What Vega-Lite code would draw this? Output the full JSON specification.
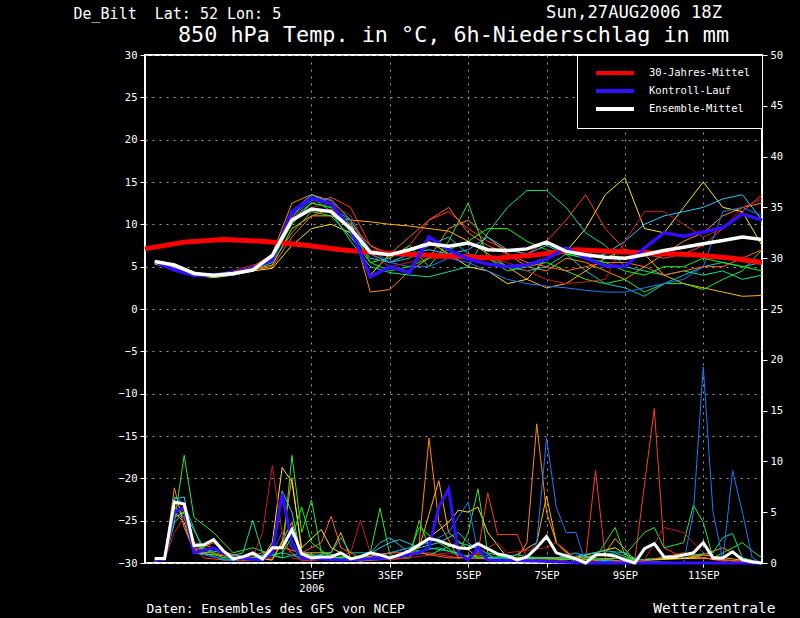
{
  "$schema": "https://vega.github.io/schema/vega-lite/v6.json",
  "width": 617,
  "height": 508,
  "autosize": {"type": "none"},
  "padding": {"left": 145, "top": 55, "right": 38, "bottom": 55},
  "background": "black",
  "config": {
    "view": {"stroke": "white", "strokeWidth": 2, "fill": "black"},
    "font": "DejaVu Sans Mono",
    "axis": {
      "labelColor": "white", "titleColor": "white", "tickColor": "white",
      "domain": false, "labelFont": "DejaVu Sans Mono", "titleFont": "DejaVu Sans Mono",
      "labelFontSize": 10.5, "titleFontWeight": "normal",
      "gridColor": "#a0a0a0", "gridDash": [2, 5], "gridWidth": 1, "tickSize": 5
    }
  },
  "title": {
    "text": "Sun,27AUG2006 18Z", "orient": "top", "anchor": "end", "frame": "group",
    "color": "white", "font": "DejaVu Sans Mono", "fontSize": 17.2, "fontWeight": "normal",
    "baseline": "alphabetic", "offset": 0, "dx": -40, "dy": 29
  },
  "datasets": {
    "temp": [
      {"s":"m1","h":6,"v":5.6},{"s":"m1","h":18,"v":5.1},{"s":"m1","h":30,"v":4.3},{"s":"m1","h":42,"v":3.9},{"s":"m1","h":54,"v":4.2},{"s":"m1","h":66,"v":4.8},{"s":"m1","h":78,"v":5.9},{"s":"m1","h":90,"v":10.8},{"s":"m1","h":102,"v":12.5},{"s":"m1","h":114,"v":13.2},{"s":"m1","h":126,"v":12.0},{"s":"m1","h":138,"v":7.5},{"s":"m1","h":150,"v":6.0},{"s":"m1","h":162,"v":7.5},{"s":"m1","h":174,"v":10.5},{"s":"m1","h":186,"v":11.5},{"s":"m1","h":198,"v":9.5},{"s":"m1","h":210,"v":8.0},{"s":"m1","h":222,"v":7.0},{"s":"m1","h":234,"v":6.5},{"s":"m1","h":246,"v":8.0},{"s":"m1","h":258,"v":10.5},{"s":"m1","h":270,"v":13.5},{"s":"m1","h":282,"v":9.5},{"s":"m1","h":294,"v":7.0},{"s":"m1","h":306,"v":6.5},{"s":"m1","h":318,"v":6.0},{"s":"m1","h":330,"v":6.5},{"s":"m1","h":342,"v":7.5},{"s":"m1","h":354,"v":9.5},{"s":"m1","h":366,"v":11.5},{"s":"m1","h":378,"v":13.5},
      {"s":"m2","h":6,"v":5.4},{"s":"m2","h":18,"v":5.0},{"s":"m2","h":30,"v":4.1},{"s":"m2","h":42,"v":3.8},{"s":"m2","h":54,"v":4.3},{"s":"m2","h":66,"v":5.0},{"s":"m2","h":78,"v":6.5},{"s":"m2","h":90,"v":12.5},{"s":"m2","h":102,"v":13.5},{"s":"m2","h":114,"v":12.8},{"s":"m2","h":126,"v":10.5},{"s":"m2","h":138,"v":2.0},{"s":"m2","h":150,"v":2.3},{"s":"m2","h":162,"v":4.5},{"s":"m2","h":174,"v":6.0},{"s":"m2","h":186,"v":9.5},{"s":"m2","h":198,"v":10.5},{"s":"m2","h":210,"v":8.5},{"s":"m2","h":222,"v":6.5},{"s":"m2","h":234,"v":5.0},{"s":"m2","h":246,"v":4.5},{"s":"m2","h":258,"v":6.0},{"s":"m2","h":270,"v":5.5},{"s":"m2","h":282,"v":4.5},{"s":"m2","h":294,"v":3.5},{"s":"m2","h":306,"v":5.0},{"s":"m2","h":318,"v":6.5},{"s":"m2","h":330,"v":8.0},{"s":"m2","h":342,"v":9.0},{"s":"m2","h":354,"v":11.0},{"s":"m2","h":366,"v":12.0},{"s":"m2","h":378,"v":12.5},
      {"s":"m3","h":6,"v":5.5},{"s":"m3","h":18,"v":4.9},{"s":"m3","h":30,"v":4.2},{"s":"m3","h":42,"v":4.0},{"s":"m3","h":54,"v":4.4},{"s":"m3","h":66,"v":4.7},{"s":"m3","h":78,"v":5.2},{"s":"m3","h":90,"v":9.5},{"s":"m3","h":102,"v":11.0},{"s":"m3","h":114,"v":11.0},{"s":"m3","h":126,"v":10.5},{"s":"m3","h":138,"v":10.3},{"s":"m3","h":150,"v":10.0},{"s":"m3","h":162,"v":9.8},{"s":"m3","h":174,"v":9.5},{"s":"m3","h":186,"v":9.2},{"s":"m3","h":198,"v":8.0},{"s":"m3","h":210,"v":6.5},{"s":"m3","h":222,"v":5.0},{"s":"m3","h":234,"v":3.5},{"s":"m3","h":246,"v":2.5},{"s":"m3","h":258,"v":3.0},{"s":"m3","h":270,"v":4.5},{"s":"m3","h":282,"v":6.0},{"s":"m3","h":294,"v":7.0},{"s":"m3","h":306,"v":6.5},{"s":"m3","h":318,"v":4.0},{"s":"m3","h":330,"v":3.0},{"s":"m3","h":342,"v":2.5},{"s":"m3","h":354,"v":2.0},{"s":"m3","h":366,"v":1.5},{"s":"m3","h":378,"v":1.6},
      {"s":"m4","h":6,"v":5.3},{"s":"m4","h":18,"v":4.8},{"s":"m4","h":30,"v":4.0},{"s":"m4","h":42,"v":3.7},{"s":"m4","h":54,"v":4.0},{"s":"m4","h":66,"v":4.5},{"s":"m4","h":78,"v":4.8},{"s":"m4","h":90,"v":7.5},{"s":"m4","h":102,"v":9.5},{"s":"m4","h":114,"v":10.0},{"s":"m4","h":126,"v":9.0},{"s":"m4","h":138,"v":4.0},{"s":"m4","h":150,"v":6.5},{"s":"m4","h":162,"v":7.0},{"s":"m4","h":174,"v":8.0},{"s":"m4","h":186,"v":6.5},{"s":"m4","h":198,"v":5.0},{"s":"m4","h":210,"v":4.5},{"s":"m4","h":222,"v":3.0},{"s":"m4","h":234,"v":3.5},{"s":"m4","h":246,"v":6.0},{"s":"m4","h":258,"v":6.8},{"s":"m4","h":270,"v":9.5},{"s":"m4","h":282,"v":13.5},{"s":"m4","h":294,"v":15.5},{"s":"m4","h":306,"v":9.5},{"s":"m4","h":318,"v":9.0},{"s":"m4","h":330,"v":12.0},{"s":"m4","h":342,"v":15.0},{"s":"m4","h":354,"v":12.0},{"s":"m4","h":366,"v":11.5},{"s":"m4","h":378,"v":7.5},
      {"s":"m5","h":6,"v":5.6},{"s":"m5","h":18,"v":5.2},{"s":"m5","h":30,"v":4.4},{"s":"m5","h":42,"v":3.9},{"s":"m5","h":54,"v":4.1},{"s":"m5","h":66,"v":4.6},{"s":"m5","h":78,"v":5.5},{"s":"m5","h":90,"v":9.0},{"s":"m5","h":102,"v":11.5},{"s":"m5","h":114,"v":11.0},{"s":"m5","h":126,"v":8.5},{"s":"m5","h":138,"v":5.5},{"s":"m5","h":150,"v":6.0},{"s":"m5","h":162,"v":7.5},{"s":"m5","h":174,"v":5.0},{"s":"m5","h":186,"v":8.0},{"s":"m5","h":198,"v":12.5},{"s":"m5","h":210,"v":6.0},{"s":"m5","h":222,"v":4.5},{"s":"m5","h":234,"v":5.0},{"s":"m5","h":246,"v":5.5},{"s":"m5","h":258,"v":4.5},{"s":"m5","h":270,"v":3.5},{"s":"m5","h":282,"v":3.0},{"s":"m5","h":294,"v":3.5},{"s":"m5","h":306,"v":2.0},{"s":"m5","h":318,"v":3.0},{"s":"m5","h":330,"v":3.0},{"s":"m5","h":342,"v":2.3},{"s":"m5","h":354,"v":3.5},{"s":"m5","h":366,"v":4.5},{"s":"m5","h":378,"v":7.0},
      {"s":"m6","h":6,"v":5.7},{"s":"m6","h":18,"v":5.3},{"s":"m6","h":30,"v":4.3},{"s":"m6","h":42,"v":4.0},{"s":"m6","h":54,"v":4.2},{"s":"m6","h":66,"v":4.6},{"s":"m6","h":78,"v":6.5},{"s":"m6","h":90,"v":11.0},{"s":"m6","h":102,"v":13.2},{"s":"m6","h":114,"v":11.5},{"s":"m6","h":126,"v":8.0},{"s":"m6","h":138,"v":5.0},{"s":"m6","h":150,"v":4.3},{"s":"m6","h":162,"v":4.0},{"s":"m6","h":174,"v":3.8},{"s":"m6","h":186,"v":4.4},{"s":"m6","h":198,"v":5.0},{"s":"m6","h":210,"v":9.0},{"s":"m6","h":222,"v":12.0},{"s":"m6","h":234,"v":14.0},{"s":"m6","h":246,"v":14.0},{"s":"m6","h":258,"v":12.0},{"s":"m6","h":270,"v":9.0},{"s":"m6","h":282,"v":7.5},{"s":"m6","h":294,"v":5.0},{"s":"m6","h":306,"v":4.5},{"s":"m6","h":318,"v":4.0},{"s":"m6","h":330,"v":4.5},{"s":"m6","h":342,"v":4.0},{"s":"m6","h":354,"v":4.5},{"s":"m6","h":366,"v":3.5},{"s":"m6","h":378,"v":4.0},
      {"s":"m7","h":6,"v":5.5},{"s":"m7","h":18,"v":5.0},{"s":"m7","h":30,"v":4.2},{"s":"m7","h":42,"v":3.9},{"s":"m7","h":54,"v":4.3},{"s":"m7","h":66,"v":4.8},{"s":"m7","h":78,"v":5.5},{"s":"m7","h":90,"v":10.5},{"s":"m7","h":102,"v":12.5},{"s":"m7","h":114,"v":12.0},{"s":"m7","h":126,"v":10.5},{"s":"m7","h":138,"v":6.5},{"s":"m7","h":150,"v":5.5},{"s":"m7","h":162,"v":6.0},{"s":"m7","h":174,"v":7.5},{"s":"m7","h":186,"v":8.5},{"s":"m7","h":198,"v":6.5},{"s":"m7","h":210,"v":6.0},{"s":"m7","h":222,"v":5.0},{"s":"m7","h":234,"v":4.5},{"s":"m7","h":246,"v":5.0},{"s":"m7","h":258,"v":6.5},{"s":"m7","h":270,"v":4.5},{"s":"m7","h":282,"v":3.0},{"s":"m7","h":294,"v":2.5},{"s":"m7","h":306,"v":1.5},{"s":"m7","h":318,"v":3.0},{"s":"m7","h":330,"v":4.0},{"s":"m7","h":342,"v":5.0},{"s":"m7","h":354,"v":5.5},{"s":"m7","h":366,"v":5.0},{"s":"m7","h":378,"v":5.5},
      {"s":"m8","h":6,"v":5.4},{"s":"m8","h":18,"v":4.8},{"s":"m8","h":30,"v":4.1},{"s":"m8","h":42,"v":3.8},{"s":"m8","h":54,"v":4.0},{"s":"m8","h":66,"v":4.5},{"s":"m8","h":78,"v":6.0},{"s":"m8","h":90,"v":11.5},{"s":"m8","h":102,"v":13.5},{"s":"m8","h":114,"v":12.5},{"s":"m8","h":126,"v":9.0},{"s":"m8","h":138,"v":6.0},{"s":"m8","h":150,"v":5.5},{"s":"m8","h":162,"v":6.5},{"s":"m8","h":174,"v":7.0},{"s":"m8","h":186,"v":6.5},{"s":"m8","h":198,"v":7.0},{"s":"m8","h":210,"v":8.5},{"s":"m8","h":222,"v":7.0},{"s":"m8","h":234,"v":6.5},{"s":"m8","h":246,"v":7.5},{"s":"m8","h":258,"v":6.5},{"s":"m8","h":270,"v":6.0},{"s":"m8","h":282,"v":6.5},{"s":"m8","h":294,"v":8.0},{"s":"m8","h":306,"v":10.0},{"s":"m8","h":318,"v":11.0},{"s":"m8","h":330,"v":11.5},{"s":"m8","h":342,"v":12.0},{"s":"m8","h":354,"v":13.0},{"s":"m8","h":366,"v":13.5},{"s":"m8","h":378,"v":10.5},
      {"s":"m9","h":6,"v":5.6},{"s":"m9","h":18,"v":5.1},{"s":"m9","h":30,"v":4.0},{"s":"m9","h":42,"v":3.8},{"s":"m9","h":54,"v":4.2},{"s":"m9","h":66,"v":4.9},{"s":"m9","h":78,"v":6.3},{"s":"m9","h":90,"v":11.0},{"s":"m9","h":102,"v":12.8},{"s":"m9","h":114,"v":13.0},{"s":"m9","h":126,"v":10.5},{"s":"m9","h":138,"v":7.0},{"s":"m9","h":150,"v":5.5},{"s":"m9","h":162,"v":5.0},{"s":"m9","h":174,"v":5.0},{"s":"m9","h":186,"v":6.0},{"s":"m9","h":198,"v":5.5},{"s":"m9","h":210,"v":4.5},{"s":"m9","h":222,"v":3.5},{"s":"m9","h":234,"v":3.0},{"s":"m9","h":246,"v":2.7},{"s":"m9","h":258,"v":2.5},{"s":"m9","h":270,"v":2.2},{"s":"m9","h":282,"v":2.0},{"s":"m9","h":294,"v":2.0},{"s":"m9","h":306,"v":2.5},{"s":"m9","h":318,"v":3.0},{"s":"m9","h":330,"v":3.5},{"s":"m9","h":342,"v":5.0},{"s":"m9","h":354,"v":11.5},{"s":"m9","h":366,"v":12.0},{"s":"m9","h":378,"v":11.0},
      {"s":"m10","h":6,"v":5.5},{"s":"m10","h":18,"v":5.0},{"s":"m10","h":30,"v":4.3},{"s":"m10","h":42,"v":4.0},{"s":"m10","h":54,"v":4.5},{"s":"m10","h":66,"v":5.2},{"s":"m10","h":78,"v":5.7},{"s":"m10","h":90,"v":10.5},{"s":"m10","h":102,"v":12.0},{"s":"m10","h":114,"v":12.5},{"s":"m10","h":126,"v":11.0},{"s":"m10","h":138,"v":6.5},{"s":"m10","h":150,"v":5.0},{"s":"m10","h":162,"v":5.5},{"s":"m10","h":174,"v":6.0},{"s":"m10","h":186,"v":6.0},{"s":"m10","h":198,"v":6.5},{"s":"m10","h":210,"v":6.0},{"s":"m10","h":222,"v":5.5},{"s":"m10","h":234,"v":4.5},{"s":"m10","h":246,"v":3.5},{"s":"m10","h":258,"v":3.0},{"s":"m10","h":270,"v":3.2},{"s":"m10","h":282,"v":3.5},{"s":"m10","h":294,"v":8.0},{"s":"m10","h":306,"v":11.5},{"s":"m10","h":318,"v":11.5},{"s":"m10","h":330,"v":10.0},{"s":"m10","h":342,"v":8.5},{"s":"m10","h":354,"v":9.5},{"s":"m10","h":366,"v":12.0},{"s":"m10","h":378,"v":13.0},
      {"s":"m11","h":6,"v":5.5},{"s":"m11","h":18,"v":5.0},{"s":"m11","h":30,"v":4.2},{"s":"m11","h":42,"v":3.9},{"s":"m11","h":54,"v":4.2},{"s":"m11","h":66,"v":4.6},{"s":"m11","h":78,"v":5.0},{"s":"m11","h":90,"v":8.5},{"s":"m11","h":102,"v":11.0},{"s":"m11","h":114,"v":11.8},{"s":"m11","h":126,"v":10.0},{"s":"m11","h":138,"v":7.5},{"s":"m11","h":150,"v":6.5},{"s":"m11","h":162,"v":8.5},{"s":"m11","h":174,"v":10.5},{"s":"m11","h":186,"v":12.0},{"s":"m11","h":198,"v":9.0},{"s":"m11","h":210,"v":7.5},{"s":"m11","h":222,"v":6.5},{"s":"m11","h":234,"v":5.5},{"s":"m11","h":246,"v":5.0},{"s":"m11","h":258,"v":4.5},{"s":"m11","h":270,"v":5.0},{"s":"m11","h":282,"v":5.5},{"s":"m11","h":294,"v":5.5},{"s":"m11","h":306,"v":5.0},{"s":"m11","h":318,"v":4.0},{"s":"m11","h":330,"v":4.5},{"s":"m11","h":342,"v":5.0},{"s":"m11","h":354,"v":5.0},{"s":"m11","h":366,"v":6.0},{"s":"m11","h":378,"v":7.0},
      {"s":"m12","h":6,"v":5.6},{"s":"m12","h":18,"v":5.1},{"s":"m12","h":30,"v":4.1},{"s":"m12","h":42,"v":3.8},{"s":"m12","h":54,"v":4.1},{"s":"m12","h":66,"v":4.7},{"s":"m12","h":78,"v":6.0},{"s":"m12","h":90,"v":10.0},{"s":"m12","h":102,"v":12.5},{"s":"m12","h":114,"v":12.0},{"s":"m12","h":126,"v":10.0},{"s":"m12","h":138,"v":5.5},{"s":"m12","h":150,"v":4.5},{"s":"m12","h":162,"v":5.0},{"s":"m12","h":174,"v":6.0},{"s":"m12","h":186,"v":7.0},{"s":"m12","h":198,"v":8.0},{"s":"m12","h":210,"v":9.5},{"s":"m12","h":222,"v":9.5},{"s":"m12","h":234,"v":8.0},{"s":"m12","h":246,"v":7.0},{"s":"m12","h":258,"v":6.5},{"s":"m12","h":270,"v":6.0},{"s":"m12","h":282,"v":5.5},{"s":"m12","h":294,"v":4.5},{"s":"m12","h":306,"v":4.0},{"s":"m12","h":318,"v":5.0},{"s":"m12","h":330,"v":5.0},{"s":"m12","h":342,"v":6.0},{"s":"m12","h":354,"v":5.5},{"s":"m12","h":366,"v":5.0},{"s":"m12","h":378,"v":4.5},
      {"s":"30-Jahres-Mittel","h":0,"v":7.1},{"s":"30-Jahres-Mittel","h":24,"v":7.9},{"s":"30-Jahres-Mittel","h":48,"v":8.2},{"s":"30-Jahres-Mittel","h":72,"v":8.0},{"s":"30-Jahres-Mittel","h":96,"v":7.6},{"s":"30-Jahres-Mittel","h":120,"v":7.0},{"s":"30-Jahres-Mittel","h":144,"v":6.6},{"s":"30-Jahres-Mittel","h":168,"v":6.4},{"s":"30-Jahres-Mittel","h":192,"v":6.2},{"s":"30-Jahres-Mittel","h":216,"v":6.0},{"s":"30-Jahres-Mittel","h":240,"v":6.4},{"s":"30-Jahres-Mittel","h":264,"v":7.0},{"s":"30-Jahres-Mittel","h":288,"v":6.8},{"s":"30-Jahres-Mittel","h":312,"v":6.6},{"s":"30-Jahres-Mittel","h":336,"v":6.4},{"s":"30-Jahres-Mittel","h":360,"v":6.0},{"s":"30-Jahres-Mittel","h":378,"v":5.5},
      {"s":"Kontroll-Lauf","h":6,"v":5.6},{"s":"Kontroll-Lauf","h":18,"v":4.6},{"s":"Kontroll-Lauf","h":30,"v":4.0},{"s":"Kontroll-Lauf","h":42,"v":4.0},{"s":"Kontroll-Lauf","h":54,"v":4.3},{"s":"Kontroll-Lauf","h":66,"v":4.8},{"s":"Kontroll-Lauf","h":78,"v":5.8},{"s":"Kontroll-Lauf","h":90,"v":11.5},{"s":"Kontroll-Lauf","h":102,"v":13.1},{"s":"Kontroll-Lauf","h":114,"v":12.4},{"s":"Kontroll-Lauf","h":126,"v":9.5},{"s":"Kontroll-Lauf","h":138,"v":3.8},{"s":"Kontroll-Lauf","h":150,"v":5.0},{"s":"Kontroll-Lauf","h":162,"v":4.3},{"s":"Kontroll-Lauf","h":174,"v":8.5},{"s":"Kontroll-Lauf","h":186,"v":7.0},{"s":"Kontroll-Lauf","h":198,"v":5.9},{"s":"Kontroll-Lauf","h":210,"v":5.3},{"s":"Kontroll-Lauf","h":222,"v":5.0},{"s":"Kontroll-Lauf","h":234,"v":5.2},{"s":"Kontroll-Lauf","h":246,"v":5.9},{"s":"Kontroll-Lauf","h":258,"v":7.2},{"s":"Kontroll-Lauf","h":270,"v":6.0},{"s":"Kontroll-Lauf","h":282,"v":5.1},{"s":"Kontroll-Lauf","h":294,"v":5.0},{"s":"Kontroll-Lauf","h":306,"v":7.2},{"s":"Kontroll-Lauf","h":318,"v":9.0},{"s":"Kontroll-Lauf","h":330,"v":8.6},{"s":"Kontroll-Lauf","h":342,"v":9.1},{"s":"Kontroll-Lauf","h":354,"v":9.6},{"s":"Kontroll-Lauf","h":366,"v":11.2},{"s":"Kontroll-Lauf","h":378,"v":10.5},
      {"s":"Ensemble-Mittel","h":6,"v":5.6},{"s":"Ensemble-Mittel","h":18,"v":5.2},{"s":"Ensemble-Mittel","h":30,"v":4.2},{"s":"Ensemble-Mittel","h":42,"v":4.0},{"s":"Ensemble-Mittel","h":54,"v":4.2},{"s":"Ensemble-Mittel","h":66,"v":4.6},{"s":"Ensemble-Mittel","h":78,"v":6.3},{"s":"Ensemble-Mittel","h":90,"v":10.5},{"s":"Ensemble-Mittel","h":102,"v":11.8},{"s":"Ensemble-Mittel","h":114,"v":11.5},{"s":"Ensemble-Mittel","h":126,"v":9.5},{"s":"Ensemble-Mittel","h":138,"v":6.7},{"s":"Ensemble-Mittel","h":150,"v":6.4},{"s":"Ensemble-Mittel","h":162,"v":7.0},{"s":"Ensemble-Mittel","h":174,"v":7.7},{"s":"Ensemble-Mittel","h":186,"v":7.4},{"s":"Ensemble-Mittel","h":198,"v":7.8},{"s":"Ensemble-Mittel","h":210,"v":7.0},{"s":"Ensemble-Mittel","h":222,"v":6.9},{"s":"Ensemble-Mittel","h":234,"v":7.1},{"s":"Ensemble-Mittel","h":246,"v":7.9},{"s":"Ensemble-Mittel","h":258,"v":6.8},{"s":"Ensemble-Mittel","h":270,"v":6.4},{"s":"Ensemble-Mittel","h":282,"v":6.1},{"s":"Ensemble-Mittel","h":294,"v":6.0},{"s":"Ensemble-Mittel","h":306,"v":6.4},{"s":"Ensemble-Mittel","h":318,"v":6.9},{"s":"Ensemble-Mittel","h":330,"v":7.3},{"s":"Ensemble-Mittel","h":342,"v":7.7},{"s":"Ensemble-Mittel","h":354,"v":8.1},{"s":"Ensemble-Mittel","h":366,"v":8.5},{"s":"Ensemble-Mittel","h":378,"v":8.2}
    ],
    "precip": [
      {"s":"m1","h":6,"v":0.2},{"s":"m1","h":12,"v":0.3},{"s":"m1","h":18,"v":5.5},{"s":"m1","h":24,"v":4.5},{"s":"m1","h":30,"v":1.5},{"s":"m1","h":36,"v":0.5},{"s":"m1","h":48,"v":0.3},{"s":"m1","h":60,"v":0.2},{"s":"m1","h":78,"v":0.5},{"s":"m1","h":84,"v":2.0},{"s":"m1","h":90,"v":1.0},{"s":"m1","h":96,"v":0.2},{"s":"m1","h":120,"v":0.5},{"s":"m1","h":132,"v":0.2},{"s":"m1","h":174,"v":1.0},{"s":"m1","h":192,"v":0.5},{"s":"m1","h":204,"v":1.0},{"s":"m1","h":210,"v":6.9},{"s":"m1","h":216,"v":2.8},{"s":"m1","h":228,"v":2.8},{"s":"m1","h":234,"v":0.5},{"s":"m1","h":252,"v":0.3},{"s":"m1","h":264,"v":0.0},{"s":"m1","h":270,"v":0.5},{"s":"m1","h":276,"v":9.1},{"s":"m1","h":282,"v":0.5},{"s":"m1","h":294,"v":0.0},{"s":"m1","h":300,"v":0.2},{"s":"m1","h":312,"v":15.2},{"s":"m1","h":318,"v":1.5},{"s":"m1","h":330,"v":0.5},{"s":"m1","h":342,"v":0.5},{"s":"m1","h":360,"v":0.0},{"s":"m1","h":378,"v":0.0},
      {"s":"m2","h":6,"v":0.3},{"s":"m2","h":12,"v":0.5},{"s":"m2","h":18,"v":7.4},{"s":"m2","h":24,"v":3.5},{"s":"m2","h":30,"v":1.2},{"s":"m2","h":42,"v":2.0},{"s":"m2","h":54,"v":0.3},{"s":"m2","h":66,"v":0.5},{"s":"m2","h":78,"v":0.3},{"s":"m2","h":84,"v":2.0},{"s":"m2","h":90,"v":8.4},{"s":"m2","h":96,"v":1.0},{"s":"m2","h":108,"v":0.5},{"s":"m2","h":120,"v":0.5},{"s":"m2","h":132,"v":0.2},{"s":"m2","h":162,"v":0.5},{"s":"m2","h":168,"v":2.0},{"s":"m2","h":174,"v":12.3},{"s":"m2","h":180,"v":4.0},{"s":"m2","h":192,"v":0.5},{"s":"m2","h":204,"v":0.8},{"s":"m2","h":216,"v":0.3},{"s":"m2","h":228,"v":0.5},{"s":"m2","h":234,"v":2.0},{"s":"m2","h":240,"v":13.7},{"s":"m2","h":246,"v":5.0},{"s":"m2","h":252,"v":2.0},{"s":"m2","h":264,"v":0.0},{"s":"m2","h":288,"v":0.5},{"s":"m2","h":300,"v":0.2},{"s":"m2","h":336,"v":0.5},{"s":"m2","h":354,"v":1.5},{"s":"m2","h":366,"v":0.5},{"s":"m2","h":378,"v":0.0},
      {"s":"m3","h":6,"v":0.3},{"s":"m3","h":12,"v":0.4},{"s":"m3","h":18,"v":5.0},{"s":"m3","h":24,"v":4.0},{"s":"m3","h":30,"v":1.0},{"s":"m3","h":60,"v":0.5},{"s":"m3","h":78,"v":0.3},{"s":"m3","h":90,"v":4.0},{"s":"m3","h":96,"v":1.0},{"s":"m3","h":114,"v":1.0},{"s":"m3","h":120,"v":3.0},{"s":"m3","h":126,"v":0.5},{"s":"m3","h":150,"v":0.5},{"s":"m3","h":168,"v":1.5},{"s":"m3","h":180,"v":8.1},{"s":"m3","h":186,"v":3.0},{"s":"m3","h":204,"v":0.5},{"s":"m3","h":222,"v":0.3},{"s":"m3","h":240,"v":2.0},{"s":"m3","h":246,"v":6.6},{"s":"m3","h":252,"v":2.0},{"s":"m3","h":264,"v":0.3},{"s":"m3","h":282,"v":1.0},{"s":"m3","h":288,"v":2.4},{"s":"m3","h":300,"v":0.3},{"s":"m3","h":330,"v":0.5},{"s":"m3","h":342,"v":0.8},{"s":"m3","h":378,"v":0.0},
      {"s":"m4","h":6,"v":0.2},{"s":"m4","h":12,"v":0.3},{"s":"m4","h":18,"v":4.5},{"s":"m4","h":24,"v":5.0},{"s":"m4","h":30,"v":1.0},{"s":"m4","h":42,"v":1.0},{"s":"m4","h":60,"v":0.3},{"s":"m4","h":72,"v":0.5},{"s":"m4","h":78,"v":2.0},{"s":"m4","h":84,"v":9.4},{"s":"m4","h":90,"v":8.0},{"s":"m4","h":96,"v":1.5},{"s":"m4","h":108,"v":3.3},{"s":"m4","h":114,"v":1.5},{"s":"m4","h":126,"v":0.5},{"s":"m4","h":138,"v":0.5},{"s":"m4","h":150,"v":0.5},{"s":"m4","h":162,"v":1.0},{"s":"m4","h":174,"v":2.5},{"s":"m4","h":186,"v":4.0},{"s":"m4","h":192,"v":5.2},{"s":"m4","h":198,"v":5.0},{"s":"m4","h":204,"v":5.5},{"s":"m4","h":210,"v":3.0},{"s":"m4","h":222,"v":0.5},{"s":"m4","h":246,"v":0.5},{"s":"m4","h":258,"v":0.3},{"s":"m4","h":288,"v":1.5},{"s":"m4","h":300,"v":0.3},{"s":"m4","h":342,"v":0.5},{"s":"m4","h":360,"v":0.2},{"s":"m4","h":378,"v":0.0},
      {"s":"m5","h":6,"v":0.3},{"s":"m5","h":12,"v":0.3},{"s":"m5","h":18,"v":4.0},{"s":"m5","h":24,"v":10.6},{"s":"m5","h":30,"v":4.5},{"s":"m5","h":42,"v":3.0},{"s":"m5","h":54,"v":1.0},{"s":"m5","h":66,"v":1.5},{"s":"m5","h":84,"v":0.5},{"s":"m5","h":90,"v":10.6},{"s":"m5","h":96,"v":3.0},{"s":"m5","h":102,"v":6.2},{"s":"m5","h":108,"v":1.0},{"s":"m5","h":126,"v":0.5},{"s":"m5","h":138,"v":1.0},{"s":"m5","h":144,"v":5.4},{"s":"m5","h":150,"v":0.8},{"s":"m5","h":162,"v":0.5},{"s":"m5","h":168,"v":4.2},{"s":"m5","h":174,"v":1.5},{"s":"m5","h":192,"v":1.0},{"s":"m5","h":198,"v":3.0},{"s":"m5","h":204,"v":7.3},{"s":"m5","h":210,"v":1.0},{"s":"m5","h":228,"v":0.3},{"s":"m5","h":246,"v":0.5},{"s":"m5","h":276,"v":0.5},{"s":"m5","h":288,"v":3.5},{"s":"m5","h":294,"v":0.8},{"s":"m5","h":306,"v":3.0},{"s":"m5","h":312,"v":3.5},{"s":"m5","h":318,"v":1.5},{"s":"m5","h":330,"v":2.0},{"s":"m5","h":336,"v":5.7},{"s":"m5","h":342,"v":4.0},{"s":"m5","h":348,"v":0.5},{"s":"m5","h":360,"v":1.5},{"s":"m5","h":366,"v":2.0},{"s":"m5","h":372,"v":1.2},{"s":"m5","h":378,"v":0.5},
      {"s":"m6","h":6,"v":0.2},{"s":"m6","h":12,"v":0.3},{"s":"m6","h":18,"v":4.0},{"s":"m6","h":24,"v":5.0},{"s":"m6","h":36,"v":1.5},{"s":"m6","h":48,"v":0.5},{"s":"m6","h":60,"v":1.0},{"s":"m6","h":66,"v":4.2},{"s":"m6","h":72,"v":1.0},{"s":"m6","h":84,"v":0.5},{"s":"m6","h":96,"v":1.0},{"s":"m6","h":114,"v":0.5},{"s":"m6","h":132,"v":0.5},{"s":"m6","h":150,"v":1.0},{"s":"m6","h":162,"v":1.5},{"s":"m6","h":174,"v":0.8},{"s":"m6","h":192,"v":2.0},{"s":"m6","h":204,"v":1.5},{"s":"m6","h":216,"v":0.3},{"s":"m6","h":240,"v":0.5},{"s":"m6","h":264,"v":0.5},{"s":"m6","h":288,"v":1.0},{"s":"m6","h":300,"v":0.3},{"s":"m6","h":318,"v":0.5},{"s":"m6","h":348,"v":1.0},{"s":"m6","h":354,"v":2.5},{"s":"m6","h":360,"v":2.9},{"s":"m6","h":366,"v":0.5},{"s":"m6","h":378,"v":0.0},
      {"s":"m7","h":6,"v":0.4},{"s":"m7","h":12,"v":0.5},{"s":"m7","h":18,"v":6.5},{"s":"m7","h":24,"v":5.8},{"s":"m7","h":36,"v":1.0},{"s":"m7","h":48,"v":0.3},{"s":"m7","h":72,"v":0.5},{"s":"m7","h":84,"v":1.0},{"s":"m7","h":96,"v":0.5},{"s":"m7","h":114,"v":1.0},{"s":"m7","h":120,"v":2.5},{"s":"m7","h":126,"v":1.0},{"s":"m7","h":138,"v":1.0},{"s":"m7","h":144,"v":2.0},{"s":"m7","h":150,"v":2.5},{"s":"m7","h":162,"v":1.0},{"s":"m7","h":180,"v":1.5},{"s":"m7","h":198,"v":0.5},{"s":"m7","h":210,"v":0.5},{"s":"m7","h":228,"v":0.8},{"s":"m7","h":240,"v":0.5},{"s":"m7","h":258,"v":0.5},{"s":"m7","h":282,"v":1.2},{"s":"m7","h":294,"v":1.0},{"s":"m7","h":306,"v":0.0},{"s":"m7","h":378,"v":0.0},
      {"s":"m8","h":6,"v":0.3},{"s":"m8","h":12,"v":0.4},{"s":"m8","h":18,"v":6.3},{"s":"m8","h":24,"v":6.5},{"s":"m8","h":30,"v":1.5},{"s":"m8","h":48,"v":1.0},{"s":"m8","h":66,"v":0.5},{"s":"m8","h":78,"v":1.0},{"s":"m8","h":84,"v":7.1},{"s":"m8","h":90,"v":5.0},{"s":"m8","h":96,"v":0.5},{"s":"m8","h":114,"v":0.5},{"s":"m8","h":132,"v":0.3},{"s":"m8","h":144,"v":1.5},{"s":"m8","h":150,"v":2.0},{"s":"m8","h":156,"v":2.3},{"s":"m8","h":168,"v":1.5},{"s":"m8","h":180,"v":2.0},{"s":"m8","h":192,"v":3.0},{"s":"m8","h":198,"v":2.0},{"s":"m8","h":210,"v":0.5},{"s":"m8","h":222,"v":0.5},{"s":"m8","h":234,"v":0.5},{"s":"m8","h":252,"v":0.5},{"s":"m8","h":264,"v":1.0},{"s":"m8","h":276,"v":0.3},{"s":"m8","h":306,"v":0.0},{"s":"m8","h":378,"v":0.0},
      {"s":"m9","h":6,"v":0.2},{"s":"m9","h":12,"v":0.3},{"s":"m9","h":18,"v":5.0},{"s":"m9","h":24,"v":4.5},{"s":"m9","h":30,"v":1.0},{"s":"m9","h":54,"v":0.2},{"s":"m9","h":78,"v":1.0},{"s":"m9","h":84,"v":3.0},{"s":"m9","h":90,"v":1.5},{"s":"m9","h":96,"v":0.5},{"s":"m9","h":132,"v":0.2},{"s":"m9","h":174,"v":2.0},{"s":"m9","h":186,"v":3.0},{"s":"m9","h":198,"v":6.0},{"s":"m9","h":204,"v":1.0},{"s":"m9","h":222,"v":0.2},{"s":"m9","h":234,"v":0.5},{"s":"m9","h":240,"v":2.0},{"s":"m9","h":246,"v":12.3},{"s":"m9","h":252,"v":5.5},{"s":"m9","h":258,"v":3.0},{"s":"m9","h":264,"v":3.0},{"s":"m9","h":270,"v":0.0},{"s":"m9","h":294,"v":0.3},{"s":"m9","h":330,"v":0.0},{"s":"m9","h":336,"v":5.0},{"s":"m9","h":342,"v":19.3},{"s":"m9","h":348,"v":5.0},{"s":"m9","h":354,"v":0.3},{"s":"m9","h":360,"v":9.1},{"s":"m9","h":366,"v":5.0},{"s":"m9","h":372,"v":0.5},{"s":"m9","h":378,"v":0.0},
      {"s":"m10","h":6,"v":0.3},{"s":"m10","h":12,"v":0.3},{"s":"m10","h":18,"v":3.0},{"s":"m10","h":24,"v":4.5},{"s":"m10","h":30,"v":1.5},{"s":"m10","h":42,"v":1.0},{"s":"m10","h":54,"v":0.5},{"s":"m10","h":66,"v":0.5},{"s":"m10","h":72,"v":3.0},{"s":"m10","h":78,"v":9.6},{"s":"m10","h":84,"v":3.0},{"s":"m10","h":90,"v":0.5},{"s":"m10","h":102,"v":0.2},{"s":"m10","h":126,"v":1.0},{"s":"m10","h":132,"v":4.2},{"s":"m10","h":138,"v":1.0},{"s":"m10","h":150,"v":0.3},{"s":"m10","h":186,"v":1.0},{"s":"m10","h":198,"v":0.5},{"s":"m10","h":216,"v":2.0},{"s":"m10","h":222,"v":1.0},{"s":"m10","h":246,"v":1.5},{"s":"m10","h":252,"v":2.0},{"s":"m10","h":264,"v":0.5},{"s":"m10","h":282,"v":0.0},{"s":"m10","h":306,"v":0.3},{"s":"m10","h":318,"v":3.5},{"s":"m10","h":330,"v":3.0},{"s":"m10","h":342,"v":1.0},{"s":"m10","h":354,"v":0.3},{"s":"m10","h":378,"v":0.0},
      {"s":"m11","h":6,"v":0.5},{"s":"m11","h":12,"v":0.5},{"s":"m11","h":18,"v":6.0},{"s":"m11","h":24,"v":5.0},{"s":"m11","h":30,"v":2.0},{"s":"m11","h":42,"v":1.5},{"s":"m11","h":60,"v":0.5},{"s":"m11","h":84,"v":1.5},{"s":"m11","h":96,"v":1.0},{"s":"m11","h":108,"v":2.0},{"s":"m11","h":114,"v":4.6},{"s":"m11","h":120,"v":1.5},{"s":"m11","h":132,"v":0.5},{"s":"m11","h":150,"v":1.0},{"s":"m11","h":168,"v":1.0},{"s":"m11","h":186,"v":0.5},{"s":"m11","h":198,"v":0.5},{"s":"m11","h":222,"v":0.3},{"s":"m11","h":258,"v":0.5},{"s":"m11","h":276,"v":0.5},{"s":"m11","h":300,"v":0.0},{"s":"m11","h":330,"v":1.0},{"s":"m11","h":342,"v":0.5},{"s":"m11","h":378,"v":0.0},
      {"s":"m12","h":6,"v":0.3},{"s":"m12","h":12,"v":0.4},{"s":"m12","h":18,"v":5.5},{"s":"m12","h":24,"v":4.8},{"s":"m12","h":30,"v":1.8},{"s":"m12","h":48,"v":0.5},{"s":"m12","h":66,"v":0.5},{"s":"m12","h":84,"v":1.0},{"s":"m12","h":90,"v":2.5},{"s":"m12","h":96,"v":5.5},{"s":"m12","h":102,"v":2.0},{"s":"m12","h":114,"v":0.5},{"s":"m12","h":150,"v":0.5},{"s":"m12","h":162,"v":1.0},{"s":"m12","h":168,"v":3.5},{"s":"m12","h":180,"v":2.0},{"s":"m12","h":192,"v":0.8},{"s":"m12","h":210,"v":0.5},{"s":"m12","h":240,"v":0.5},{"s":"m12","h":264,"v":0.3},{"s":"m12","h":294,"v":0.5},{"s":"m12","h":306,"v":0.0},{"s":"m12","h":378,"v":0.0},
      {"s":"Kontroll-Lauf","h":6,"v":0.3},{"s":"Kontroll-Lauf","h":12,"v":0.4},{"s":"Kontroll-Lauf","h":18,"v":5.0},{"s":"Kontroll-Lauf","h":24,"v":5.5},{"s":"Kontroll-Lauf","h":30,"v":1.0},{"s":"Kontroll-Lauf","h":42,"v":1.5},{"s":"Kontroll-Lauf","h":54,"v":0.5},{"s":"Kontroll-Lauf","h":72,"v":0.3},{"s":"Kontroll-Lauf","h":78,"v":1.0},{"s":"Kontroll-Lauf","h":84,"v":6.8},{"s":"Kontroll-Lauf","h":90,"v":2.0},{"s":"Kontroll-Lauf","h":96,"v":0.5},{"s":"Kontroll-Lauf","h":120,"v":0.3},{"s":"Kontroll-Lauf","h":150,"v":0.5},{"s":"Kontroll-Lauf","h":168,"v":1.0},{"s":"Kontroll-Lauf","h":174,"v":1.5},{"s":"Kontroll-Lauf","h":180,"v":5.5},{"s":"Kontroll-Lauf","h":186,"v":7.3},{"s":"Kontroll-Lauf","h":192,"v":1.0},{"s":"Kontroll-Lauf","h":198,"v":0.3},{"s":"Kontroll-Lauf","h":204,"v":1.5},{"s":"Kontroll-Lauf","h":210,"v":0.3},{"s":"Kontroll-Lauf","h":240,"v":0.2},{"s":"Kontroll-Lauf","h":270,"v":0.0},{"s":"Kontroll-Lauf","h":378,"v":0.0},
      {"s":"Ensemble-Mittel","h":6,"v":0.45},{"s":"Ensemble-Mittel","h":12,"v":0.45},{"s":"Ensemble-Mittel","h":18,"v":6.0},{"s":"Ensemble-Mittel","h":24,"v":5.8},{"s":"Ensemble-Mittel","h":30,"v":1.7},{"s":"Ensemble-Mittel","h":36,"v":1.8},{"s":"Ensemble-Mittel","h":42,"v":2.3},{"s":"Ensemble-Mittel","h":48,"v":1.2},{"s":"Ensemble-Mittel","h":54,"v":0.4},{"s":"Ensemble-Mittel","h":60,"v":0.6},{"s":"Ensemble-Mittel","h":66,"v":1.0},{"s":"Ensemble-Mittel","h":72,"v":0.4},{"s":"Ensemble-Mittel","h":78,"v":1.5},{"s":"Ensemble-Mittel","h":84,"v":1.5},{"s":"Ensemble-Mittel","h":90,"v":3.3},{"s":"Ensemble-Mittel","h":96,"v":0.9},{"s":"Ensemble-Mittel","h":102,"v":0.5},{"s":"Ensemble-Mittel","h":108,"v":0.6},{"s":"Ensemble-Mittel","h":114,"v":0.6},{"s":"Ensemble-Mittel","h":120,"v":1.0},{"s":"Ensemble-Mittel","h":126,"v":0.4},{"s":"Ensemble-Mittel","h":132,"v":0.6},{"s":"Ensemble-Mittel","h":138,"v":1.0},{"s":"Ensemble-Mittel","h":144,"v":0.8},{"s":"Ensemble-Mittel","h":150,"v":0.5},{"s":"Ensemble-Mittel","h":156,"v":0.8},{"s":"Ensemble-Mittel","h":162,"v":1.2},{"s":"Ensemble-Mittel","h":168,"v":1.8},{"s":"Ensemble-Mittel","h":174,"v":2.4},{"s":"Ensemble-Mittel","h":180,"v":2.2},{"s":"Ensemble-Mittel","h":186,"v":1.8},{"s":"Ensemble-Mittel","h":192,"v":1.5},{"s":"Ensemble-Mittel","h":198,"v":1.4},{"s":"Ensemble-Mittel","h":204,"v":1.9},{"s":"Ensemble-Mittel","h":210,"v":1.4},{"s":"Ensemble-Mittel","h":216,"v":0.9},{"s":"Ensemble-Mittel","h":222,"v":0.7},{"s":"Ensemble-Mittel","h":228,"v":0.3},{"s":"Ensemble-Mittel","h":234,"v":0.6},{"s":"Ensemble-Mittel","h":240,"v":1.5},{"s":"Ensemble-Mittel","h":246,"v":2.6},{"s":"Ensemble-Mittel","h":252,"v":1.0},{"s":"Ensemble-Mittel","h":258,"v":0.7},{"s":"Ensemble-Mittel","h":264,"v":0.4},{"s":"Ensemble-Mittel","h":270,"v":0.0},{"s":"Ensemble-Mittel","h":276,"v":0.8},{"s":"Ensemble-Mittel","h":282,"v":0.8},{"s":"Ensemble-Mittel","h":288,"v":0.7},{"s":"Ensemble-Mittel","h":294,"v":0.3},{"s":"Ensemble-Mittel","h":300,"v":0.0},{"s":"Ensemble-Mittel","h":306,"v":1.4},{"s":"Ensemble-Mittel","h":312,"v":1.9},{"s":"Ensemble-Mittel","h":318,"v":0.6},{"s":"Ensemble-Mittel","h":324,"v":0.6},{"s":"Ensemble-Mittel","h":330,"v":0.8},{"s":"Ensemble-Mittel","h":336,"v":1.0},{"s":"Ensemble-Mittel","h":342,"v":2.0},{"s":"Ensemble-Mittel","h":348,"v":0.5},{"s":"Ensemble-Mittel","h":354,"v":0.5},{"s":"Ensemble-Mittel","h":360,"v":1.1},{"s":"Ensemble-Mittel","h":366,"v":0.3},{"s":"Ensemble-Mittel","h":372,"v":0.1},{"s":"Ensemble-Mittel","h":378,"v":0.0}
    ]
  },
  "layer": [
    {
      "data": {"name": "temp"},
      "encoding": {
        "x": {
          "field": "h", "type": "quantitative",
          "scale": {"domain": [0, 378], "nice": false, "zero": false},
          "axis": {
            "values": [102, 150, 198, 246, 294, 342],
            "labelExpr": "datum.value == 102 ? ['1SEP', '2006'] : ((datum.value - 102) / 24 + 1) + 'SEP'",
            "grid": true, "tickSize": 4, "labelPadding": 3, "labelLineHeight": 13,
            "title": "Daten: Ensembles des GFS von NCEP",
            "titleX": 1, "titleY": 49, "titleAlign": "left", "titleAnchor": null,
            "titleBaseline": "alphabetic", "titleFontSize": 13
          }
        },
        "y": {
          "field": "v", "type": "quantitative",
          "scale": {"domain": [-30, 30], "nice": false, "zero": false},
          "axis": {
            "values": [-30, -25, -20, -15, -10, -5, 0, 5, 10, 15, 20, 25, 30],
            "grid": true, "labelPadding": 3,
            "title": "De_Bilt\u00a0\u00a0Lat: 52 Lon: 5",
            "titleAngle": 0, "titleX": -72, "titleY": -37, "titleAlign": "left",
            "titleBaseline": "alphabetic", "titleFontSize": 15
          }
        }
      },
      "layer": [
        {
          "transform": [{"filter": {"field": "s", "oneOf": ["m1","m2","m3","m4","m5","m6","m7","m8","m9","m10","m11","m12"]}}],
          "mark": {"type": "line", "strokeWidth": 1},
          "encoding": {
            "stroke": {
              "field": "s", "type": "nominal", "legend": null,
              "scale": {
                "domain": ["m1","m2","m3","m4","m5","m6","m7","m8","m9","m10","m11","m12"],
                "range": ["#ff3c1e","#ff8c00","#ffb400","#ffe619","#32e632","#00e696","#00c8c8","#28c8ff","#1e78ff","#c81e1e","#ff6428","#00ff00"]
              }
            }
          }
        },
        {
          "transform": [{"filter": {"field": "s", "equal": "30-Jahres-Mittel"}}],
          "mark": {"type": "line", "strokeWidth": 5},
          "encoding": {
            "color": {
              "field": "s", "type": "nominal",
              "scale": {"domain": ["30-Jahres-Mittel", "Kontroll-Lauf", "Ensemble-Mittel"], "range": ["#ff0000", "#3010ff", "#ffffff"]},
              "legend": {
                "title": null, "orient": "top-right", "offset": 0,
                "fillColor": "black", "strokeColor": "white", "padding": 11,
                "labelColor": "white", "labelFontSize": 10.5, "labelFont": "DejaVu Sans Mono",
                "symbolType": "M-4,0H4", "symbolSize": 90, "symbolStrokeWidth": 4,
                "labelOffset": 27, "rowPadding": 2, "symbolOffset": 20
              }
            }
          }
        },
        {
          "transform": [{"filter": {"field": "s", "equal": "Kontroll-Lauf"}}],
          "mark": {"type": "line", "strokeWidth": 3.5},
          "encoding": {"color": {"field": "s", "type": "nominal"}}
        },
        {
          "transform": [{"filter": {"field": "s", "equal": "Ensemble-Mittel"}}],
          "mark": {"type": "line", "strokeWidth": 3.5},
          "encoding": {"color": {"field": "s", "type": "nominal"}}
        }
      ]
    },
    {
      "data": {"name": "precip"},
      "encoding": {
        "x": {
          "field": "h", "type": "quantitative",
          "scale": {"domain": [0, 378], "nice": false, "zero": false},
          "axis": {
            "orient": "top", "labels": false, "ticks": false, "grid": false,
            "title": "850 hPa Temp. in °C, 6h-Niederschlag in mm",
            "titleX": 308, "titleY": -14, "titleAlign": "center", "titleAnchor": null,
            "titleBaseline": "alphabetic", "titleFontSize": 21.8
          }
        },
        "y": {
          "field": "v", "type": "quantitative",
          "scale": {"domain": [0, 50], "nice": false, "zero": false},
          "axis": {
            "orient": "right", "values": [0, 5, 10, 15, 20, 25, 30, 35, 40, 45, 50],
            "grid": false, "labelPadding": 3,
            "title": "Wetterzentrale",
            "titleAngle": 0, "titleX": 13, "titleY": 557, "titleAlign": "right",
            "titleBaseline": "alphabetic", "titleFontSize": 14.5
          }
        }
      },
      "layer": [
        {
          "transform": [{"filter": {"field": "s", "oneOf": ["m1","m2","m3","m4","m5","m6","m7","m8","m9","m10","m11","m12"]}}],
          "mark": {"type": "line", "strokeWidth": 1},
          "encoding": {"stroke": {"field": "s", "type": "nominal", "legend": null}}
        },
        {
          "transform": [{"filter": {"field": "s", "equal": "Kontroll-Lauf"}}],
          "mark": {"type": "line", "strokeWidth": 3},
          "encoding": {"color": {"field": "s", "type": "nominal"}}
        },
        {
          "transform": [{"filter": {"field": "s", "equal": "Ensemble-Mittel"}}],
          "mark": {"type": "line", "strokeWidth": 3},
          "encoding": {"color": {"field": "s", "type": "nominal"}}
        }
      ]
    }
  ],
  "resolve": {"scale": {"y": "independent"}, "axis": {"x": "independent"}}
}
